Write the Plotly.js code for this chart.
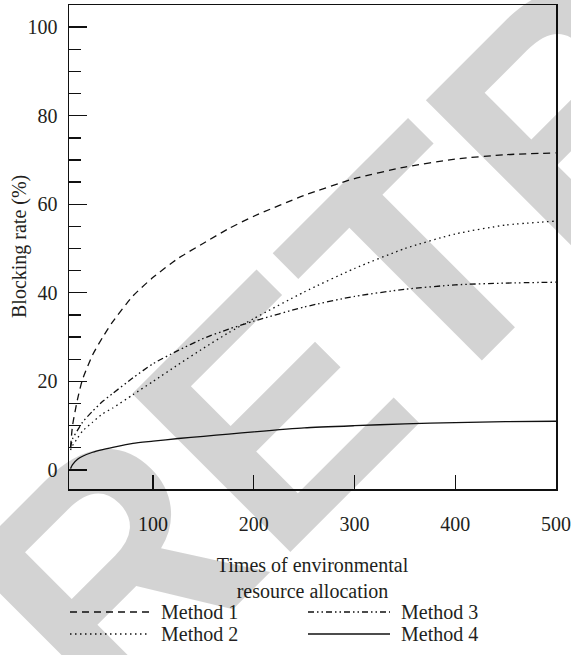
<!DOCTYPE html>
<html>
<head>
<meta charset="utf-8">
<script src="https://cdn.plot.ly/plotly-3.0.1.min.js"></script>
<style>html,body{margin:0;padding:0;background:#fff;}#chart{width:571px;height:655px;}</style>
</head>
<body>
<div id="chart"></div>
<script>
// Data
const allocations = [18, 20, 25, 30, 40, 50, 60, 80, 100, 125, 150, 175, 200, 250, 300, 350, 400, 450, 500];
const method1 = [5, 10, 16, 20.5, 26, 30, 33.5, 39.3, 43.5, 47.8, 51.2, 54.5, 57.3, 62, 65.8, 68.4, 70.2, 71.2, 71.6];
const method2 = [4.5, 5.5, 7.2, 8.8, 10.8, 12.7, 14, 17, 20, 23.8, 27.5, 31, 34.2, 40.2, 45.5, 50, 53.3, 55.3, 56.2];
const method3 = [5, 7, 9, 10.8, 13.3, 15.5, 17.3, 20.8, 24, 27, 29.7, 31.8, 33.6, 36.8, 39.2, 40.8, 41.8, 42.2, 42.4];
const method4 = [0.3, 1.2, 2.4, 3.1, 4, 4.6, 5.1, 6, 6.5, 7.1, 7.6, 8.1, 8.6, 9.5, 10, 10.4, 10.7, 10.9, 11];
const seriesNames = ["Method 1", "Method 2", "Method 3", "Method 4"];
const xTicks = [100, 200, 300, 400, 500];
const xTitle = "Times of environmental<br>resource allocation";
const yTitle = "Blocking rate (%)";
const watermark = "RETRACTED";

const dashes = ["7px,5px", "1.5px,3.5px", "6px,3px,1.5px,3px,1.5px,3px", "solid"];
const values = [method1, method2, method3, method4];
const serif = "Liberation Serif, Times New Roman, serif";
const txtColor = "#231f20";

const traces = values.map((v, i) => ({
  x: allocations, y: v, name: seriesNames[i], type: "scatter", mode: "lines",
  line: {color: "#111", width: 1.3, dash: dashes[i], shape: "spline", smoothing: 0.6},
  showlegend: false, hoverinfo: "skip"
}));

// manual legend (two columns, column-major)
const W = 487, H = 484, L = 69, B = 489;
const px2x = p => (p - L) / W;
const px2y = p => (B - p) / H;
const legendPos = [
  {x0: 70, x1: 150, tx: 159, y: 612},
  {x0: 70, x1: 150, tx: 159, y: 634},
  {x0: 308, x1: 390, tx: 399, y: 612},
  {x0: 308, x1: 390, tx: 399, y: 634}
];
const shapes = legendPos.map((p, i) => ({
  type: "line", xref: "paper", yref: "paper",
  x0: px2x(p.x0), x1: px2x(p.x1), y0: px2y(p.y), y1: px2y(p.y),
  line: {color: "#111", width: 1.3, dash: dashes[i]}
}));
const annotations = legendPos.map((p, i) => ({
  xref: "paper", yref: "paper", x: px2x(p.tx), y: px2y(p.y),
  xanchor: "left", yanchor: "middle", showarrow: false,
  text: seriesNames[i], font: {family: serif, size: 20, color: txtColor}
}));
annotations.unshift({
  xref: "paper", yref: "paper", x: px2x(737.6), y: px2y(-54.6),
  xanchor: "center", yanchor: "middle", showarrow: false, textangle: -45,
  text: watermark,
  font: {family: "Liberation Sans, Arial, sans-serif", size: 325, weight: "bold", color: "rgba(0,0,0,0.173)"}
});
// y-axis title
annotations.push({
  xref: "paper", yref: "paper", x: px2x(19), y: px2y(247),
  xanchor: "center", yanchor: "middle", showarrow: false, textangle: -90,
  text: yTitle, font: {family: serif, size: 20, color: txtColor}
});

const layout = {
  width: 571, height: 655,
  margin: {l: 69, r: 15, t: 5, b: 166},
  paper_bgcolor: "#fff", plot_bgcolor: "#fff",
  font: {family: serif, size: 20, color: txtColor},
  xaxis: {
    range: [16.5, 500], tickvals: xTicks, ticks: "inside", ticklen: 14, tickwidth: 1.3, tickcolor: "#111",
    showline: true, linewidth: 1.5, linecolor: "#111", mirror: true, showgrid: false, zeroline: false,
    ticklabelstandoff: 16,
    title: {text: xTitle, standoff: 24, font: {family: serif, size: 20, color: txtColor}}
  },
  yaxis: {
    range: [-4.3, 105], dtick: 20, tick0: 0, ticks: "inside", ticklen: 18, tickwidth: 1.3, tickcolor: "#111",
    minor: {dtick: 5, ticks: "inside", ticklen: 12, tickwidth: 1.3, tickcolor: "#111"},
    showline: true, linewidth: 1.5, linecolor: "#111", mirror: true, showgrid: false, zeroline: false,
    ticklabelstandoff: 6
  },
  shapes: shapes,
  annotations: annotations,
  showlegend: false
};

Plotly.newPlot("chart", traces, layout, {displayModeBar: false, staticPlot: true});
</script>
</body>
</html>
